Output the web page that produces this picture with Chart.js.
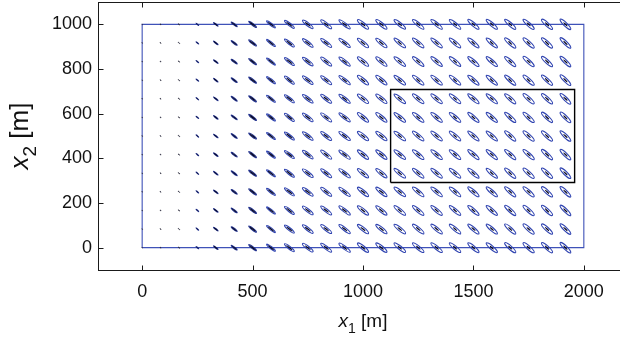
<!DOCTYPE html>
<html><head><meta charset="utf-8">
<script src="https://cdn.jsdelivr.net/npm/chart.js@4.4.1/dist/chart.umd.min.js"></script>
<style>html,body{margin:0;padding:0;background:#fff;overflow:hidden;width:620px;height:338px}</style>
</head><body>
<canvas id="c" width="640" height="338" style="display:block;width:640px;height:338px"></canvas>
<script>
// grid of sensor/estimate positions [m]
const colX = [0, 83.3, 166.7, 250, 333.3, 416.7, 500, 583.3, 666.7, 750, 833.3, 916.7, 1000, 1083.3, 1166.7, 1250, 1333.3, 1416.7, 1500, 1583.3, 1666.7, 1750, 1833.3, 1916.7];
const rowY = [0, 83.3, 166.7, 250, 333.3, 416.7, 500, 583.3, 666.7, 750, 833.3, 916.7, 1000];
// ellipse semi-axes per column [m] and tilt [deg]
const outerMajor = [2, 3, 4, 8, 13, 17, 22, 25, 28, 30, 31, 32, 32, 32, 33, 33, 33, 33, 33, 33, 33, 33, 33, 33];
const outerMinor = [1, 1, 1, 1, 2, 3, 4, 5, 6, 7, 7, 7, 8, 8, 8, 8, 8, 8, 8, 8, 8, 8, 8, 8];
const innerMajor = [1, 2, 3, 7, 11, 14, 16, 17, 17, 16, 15, 15, 14, 14, 13, 13, 13, 12, 12, 12, 12, 12, 13, 13];
const innerMinor = [1, 1, 1, 1, 2, 2, 3, 3, 3, 3, 3, 3, 3, 3, 3, 3, 3, 3, 3, 3, 3, 3, 3, 3];
const tiltDeg = [45, 44, 42, 40, 39, 38, 38, 38, 38, 38, 38, 38, 39, 39, 39, 40, 40, 40, 41, 41, 42, 42, 43, 44];
// rectangles
const domainX = [0, 2000], domainY = [0, 1000];
const regionX = [1125, 1958.3], regionY = [291.7, 708.3];
// axes
const xTicks = [0, 500, 1000, 1500, 2000];
const yTicks = [0, 200, 400, 600, 800, 1000];
const xRange = [-200, 2200], yRange = [-100, 1100];

const pts = [];
rowY.forEach(y => colX.forEach((x, c) => pts.push({x: x, y: y, c: c})));
const rect = (X, Y) => [{x:X[0],y:Y[0]},{x:X[1],y:Y[0]},{x:X[1],y:Y[1]},{x:X[0],y:Y[1]},{x:X[0],y:Y[0]}];

const FONT = '"Liberation Sans", Arial, Helvetica, sans-serif';
const INK = '#111111';

const ellipsePlugin = {
  id: 'ellipses',
  afterDatasetsDraw(chart) {
    const ctx = chart.ctx, xs = chart.scales.x, ys = chart.scales.y;
    const kx = Math.abs(xs.getPixelForValue(1000) - xs.getPixelForValue(0)) / 1000;
    const ky = Math.abs(ys.getPixelForValue(1000) - ys.getPixelForValue(0)) / 1000;
    const k = (kx + ky) / 2;
    const meta = chart.getDatasetMeta(0);
    const a = chart.chartArea;
    ctx.save();
    ctx.beginPath(); ctx.rect(a.left, a.top, a.right - a.left, a.bottom - a.top); ctx.clip();
    meta.data.forEach((el, i) => {
      const c = pts[i].c;
      const rot = tiltDeg[c] * Math.PI / 180;
      ctx.beginPath();
      ctx.ellipse(el.x, el.y, Math.max(outerMajor[c] * k, 0.2), Math.max(outerMinor[c] * k, 0.2), rot, 0, 2 * Math.PI);
      ctx.lineWidth = c < 3 ? 0.8 : 1.1;
      ctx.strokeStyle = c < 3 ? '#333344' : (c < 7 ? '#22328f' : '#2f43b0');
      ctx.stroke();
      ctx.beginPath();
      ctx.ellipse(el.x, el.y, Math.max(innerMajor[c] * k, 0.2), Math.max(innerMinor[c] * k, 0.2), rot, 0, 2 * Math.PI);
      ctx.fillStyle = '#06061e';
      ctx.fill();
    });
    ctx.restore();
  }
};

const framePlugin = {
  id: 'frame',
  afterDraw(chart) {
    const ctx = chart.ctx, a = chart.chartArea, xs = chart.scales.x, ys = chart.scales.y;
    ctx.save();
    ctx.strokeStyle = '#1a1a1a';
    ctx.lineWidth = 1;
    const L = Math.round(a.left) + 0.5, R = Math.round(a.right) + 0.5, T = Math.round(a.top) + 0.5, B = Math.round(a.bottom) + 0.5;
    ctx.strokeRect(L, T, R - L, B - T);
    ctx.beginPath();
    xTicks.forEach(v => {
      const p = Math.round(xs.getPixelForValue(v)) + 0.5;
      ctx.moveTo(p, B); ctx.lineTo(p, B - 5);
      ctx.moveTo(p, T); ctx.lineTo(p, T + 5);
    });
    yTicks.forEach(v => {
      const p = Math.round(ys.getPixelForValue(v)) + 0.5;
      ctx.moveTo(L, p); ctx.lineTo(L + 5, p);
      ctx.moveTo(R, p); ctx.lineTo(R - 5, p);
    });
    ctx.stroke();
    // axis titles
    ctx.fillStyle = INK;
    ctx.textBaseline = 'alphabetic';
    const drawTitle = (sub, size) => {
      const parts = [
        {t: 'x', f: 'italic ' + size + 'px ' + FONT, dy: 0},
        {t: sub, f: Math.round(size * 0.72) + 'px ' + FONT, dy: size * 0.3},
        {t: ' [m]', f: size + 'px ' + FONT, dy: 0}
      ];
      let w = 0;
      parts.forEach(p => { ctx.font = p.f; p.w = ctx.measureText(p.t).width; w += p.w; });
      let x = -w / 2;
      parts.forEach(p => { ctx.font = p.f; ctx.fillText(p.t, x, p.dy); x += p.w; });
    };
    ctx.save();
    ctx.translate((a.left + a.right) / 2, 327);
    drawTitle('1', 19);
    ctx.restore();
    ctx.save();
    ctx.translate(28, (a.top + a.bottom) / 2);
    ctx.rotate(-Math.PI / 2);
    drawTitle('2', 26);
    ctx.restore();
    ctx.restore();
  }
};

new Chart(document.getElementById('c'), {
  type: 'scatter',
  data: {
    datasets: [
      {label: 'estimates', data: pts, pointRadius: 0, pointHoverRadius: 0, showLine: false},
      {label: 'domain', data: rect(domainX, domainY), showLine: true, pointRadius: 0, borderColor: '#3f52b8', borderWidth: 1.1, fill: false},
      {label: 'region', data: rect(regionX, regionY), showLine: true, pointRadius: 0, borderColor: '#000000', borderWidth: 1.4, fill: false}
    ]
  },
  options: {
    responsive: false,
    animation: false,
    events: [],
    layout: {padding: {top: 2, right: 12, left: 0, bottom: 0}},
    plugins: {legend: {display: false}, tooltip: {enabled: false}},
    scales: {
      x: {
        type: 'linear', min: xRange[0], max: xRange[1],
        grid: {display: false, drawTicks: false},
        border: {display: false},
        ticks: {padding: 11, color: INK, font: {family: FONT, size: 18}, maxRotation: 0, callback: v => String(v)},
        afterBuildTicks: s => { s.ticks = xTicks.map(v => ({value: v})); },
        afterFit: s => { s.height = 68; s.paddingLeft = 0; s.paddingRight = 0; }
      },
      y: {
        type: 'linear', min: yRange[0], max: yRange[1],
        grid: {display: false, drawTicks: false},
        border: {display: false},
        ticks: {padding: 6, color: INK, font: {family: FONT, size: 18}, callback: v => String(v)},
        afterBuildTicks: s => { s.ticks = yTicks.map(v => ({value: v})); },
        afterFit: s => { s.width = 98; s.paddingTop = 0; s.paddingBottom = 0; }
      }
    }
  },
  plugins: [ellipsePlugin, framePlugin]
});
</script>
</body></html>
